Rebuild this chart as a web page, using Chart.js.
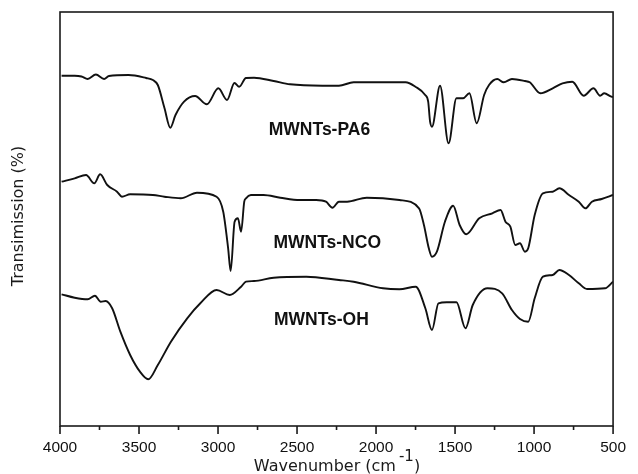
<!DOCTYPE html>
<html>
<head>
<meta charset="utf-8">
<script src="https://cdn.jsdelivr.net/npm/chart.js@4"></script>
<style>
  html, body { margin: 0; padding: 0; background: #fff; }
  canvas { display: block; }
</style>
</head>
<body>
<canvas id="ftir" width="638" height="474"></canvas>
<script>
/* FTIR spectra: wavenumber (cm-1) vs transmission, arbitrary units, curves offset */

const PA6_WN = [3990, 3907, 3864, 3825, 3773, 3721, 3690, 3566, 3455, 3412, 3381, 3339, 3302, 3269, 3215, 3145, 3071, 2998, 2943, 2896, 2866, 2823, 2772, 2648, 2544, 2340, 2235, 2142, 1813, 1751, 1689, 1670, 1658, 1646, 1595, 1541, 1491, 1450, 1409, 1363, 1316, 1285, 1233, 1192, 1140, 1058, 1027, 960, 882, 820, 758, 686, 624, 582, 556, 511, 500];
const PA6_T  = [350.3, 350.3, 349.5, 347, 351.5, 347, 350, 351, 348, 346, 341, 318, 298.3, 311, 324.3, 330, 321.7, 337.7, 326, 343, 339.3, 348, 348.3, 345, 341.7, 340.3, 340.3, 343.7, 343.7, 339.3, 331, 324.3, 304.3, 299.3, 340.3, 282.7, 327.7, 327.7, 332.7, 302.7, 331, 341, 347, 343.7, 347, 345, 343.7, 332.7, 337.7, 342.7, 344.3, 330.3, 337.7, 330.3, 332.7, 329.3, 329];

const NCO_WN = [3990, 3907, 3835, 3783, 3746, 3701, 3639, 3608, 3556, 3412, 3339, 3236, 3133, 3009, 2967, 2936, 2920, 2895, 2874, 2854, 2834, 2823, 2792, 2712, 2606, 2482, 2379, 2317, 2276, 2235, 2183, 2059, 1852, 1728, 1697, 1666, 1646, 1615, 1564, 1512, 1471, 1429, 1347, 1264, 1212, 1181, 1150, 1119, 1089, 1058, 1037, 996, 944, 882, 840, 779, 717, 675, 634, 572, 500];
const NCO_T  = [244.3, 247.7, 251, 242.7, 251.7, 241, 234.3, 229.3, 231.7, 231, 229.3, 227.7, 233.3, 229.3, 214.3, 177.7, 155, 204.3, 207.7, 194.3, 224.3, 227.7, 231, 231, 228.3, 226, 226, 224.3, 218.3, 224.3, 224.3, 228.3, 226, 217.7, 201, 177.7, 169.3, 174.3, 204.3, 220.3, 201, 191.7, 207.7, 212.7, 216, 204.3, 199.3, 181, 182.7, 174.3, 177.7, 211, 232.7, 234.3, 237.7, 231, 224.3, 217.7, 224.3, 227, 231];

const OH_WN = [3990, 3907, 3825, 3779, 3742, 3711, 3670, 3618, 3556, 3494, 3442, 3381, 3298, 3195, 3112, 3009, 2926, 2854, 2823, 2772, 2648, 2441, 2235, 2142, 1956, 1852, 1749, 1688, 1646, 1605, 1553, 1491, 1434, 1388, 1295, 1202, 1140, 1089, 1037, 996, 944, 882, 840, 779, 717, 665, 551, 500];
const OH_T  = [131.7, 128.3, 126.7, 130.3, 124.3, 125, 117.7, 94.3, 71, 54.3, 46.7, 61, 84.3, 107.7, 122.7, 136, 131, 139.3, 144.3, 145, 148.3, 149.3, 146, 144.3, 137.7, 136.7, 139.3, 117.7, 96, 122.7, 123.7, 123.7, 97.7, 121, 137.7, 132.7, 116, 107, 104.3, 127.7, 149.3, 151, 156, 151, 142.7, 137, 137.7, 144.3];

const LABELS  = ['MWNTs-PA6', 'MWNTs-NCO', 'MWNTs-OH'];
const LABEL_X = [2358, 2309, 2346];
const LABEL_Y = [296, 183, 106];

const X_MIN = 500, X_MAX = 4000, X_STEP = 500;
const MAJOR_TICKS = [4000, 3500, 3000, 2500, 2000, 1500, 1000, 500];
const MINOR_TICKS = [3750, 3250, 2750, 2250, 1750, 1250, 750];

const INK = '#111';
const pts = (xs, ys) => xs.map((x, i) => ({ x, y: ys[i] }));
const series = (data) => ({
  data, borderColor: INK, borderWidth: 1.9, pointRadius: 0,
  fill: false, cubicInterpolationMode: 'monotone'
});

/* frame, outward ticks, curve labels and axis titles */
const decor = {
  id: 'decor',
  afterDraw(chart) {
    const { ctx, chartArea: a, scales: { x, y } } = chart;
    ctx.save();
    ctx.fillStyle = '#1a1a1a';
    ctx.strokeStyle = '#1a1a1a';
    ctx.lineWidth = 1.6;
    ctx.strokeRect(a.left, a.top, a.width, a.height);

    MAJOR_TICKS.forEach(v => ctx.fillRect(x.getPixelForValue(v) - 0.8, a.bottom, 1.6, 8));
    MINOR_TICKS.forEach(v => ctx.fillRect(x.getPixelForValue(v) - 0.8, a.bottom, 1.6, 4));

    ctx.fillStyle = '#111';
    ctx.font = 'bold 17.5px "Liberation Sans", Arial, sans-serif';
    ctx.textAlign = 'center';
    ctx.textBaseline = 'middle';
    LABELS.forEach((s, i) => ctx.fillText(s, x.getPixelForValue(LABEL_X[i]), y.getPixelForValue(LABEL_Y[i])));

    // x title with superscript
    ctx.fillStyle = '#1a1a1a';
    ctx.textAlign = 'left';
    ctx.textBaseline = 'alphabetic';
    const main = 'Wavenumber (cm', sup = '-1', close = ')';
    ctx.font = '16px "DejaVu Sans", sans-serif';
    const wMain = ctx.measureText(main).width, wClose = ctx.measureText(close).width;
    ctx.font = '15px "DejaVu Sans", sans-serif';
    const wSup = ctx.measureText(sup).width;
    const sx = 337 - (wMain + wSup + wClose + 3) / 2;
    ctx.font = '16px "DejaVu Sans", sans-serif';
    ctx.fillText(main, sx, 471);
    ctx.font = '15px "DejaVu Sans", sans-serif';
    ctx.fillText(sup, sx + wMain + 3, 461);
    ctx.font = '16px "DejaVu Sans", sans-serif';
    ctx.fillText(close, sx + wMain + wSup + 3, 471);

    // y title
    ctx.translate(19, 216);
    ctx.rotate(-Math.PI / 2);
    ctx.textAlign = 'center';
    ctx.textBaseline = 'middle';
    ctx.fillText('Transimission (%)', 0, 0);
    ctx.restore();
  }
};

new Chart(document.getElementById('ftir'), {
  type: 'line',
  data: {
    datasets: [
      series(pts(PA6_WN, PA6_T)),
      series(pts(NCO_WN, NCO_T)),
      series(pts(OH_WN, OH_T)),
    ]
  },
  options: {
    responsive: false,
    animation: false,
    devicePixelRatio: 1,
    layout: { padding: { top: 12, right: 13, left: 0, bottom: 0 } },
    plugins: { legend: { display: false }, tooltip: { enabled: false } },
    scales: {
      x: {
        type: 'linear', reverse: true, min: X_MIN, max: X_MAX,
        grid: { display: false, drawTicks: false },
        border: { display: false },
        ticks: { stepSize: X_STEP, padding: 12, color: '#111', callback: v => String(v),
                 font: { family: '"Liberation Sans", Arial, sans-serif', size: 15.5 } },
        afterFit: s => { s.height = 48; }
      },
      y: {
        min: 0, max: 414,
        grid: { display: false, drawTicks: false },
        border: { display: false },
        ticks: { display: false },
        afterFit: s => { s.width = 60; }
      }
    }
  },
  plugins: [decor]
});
</script>
</body>
</html>
